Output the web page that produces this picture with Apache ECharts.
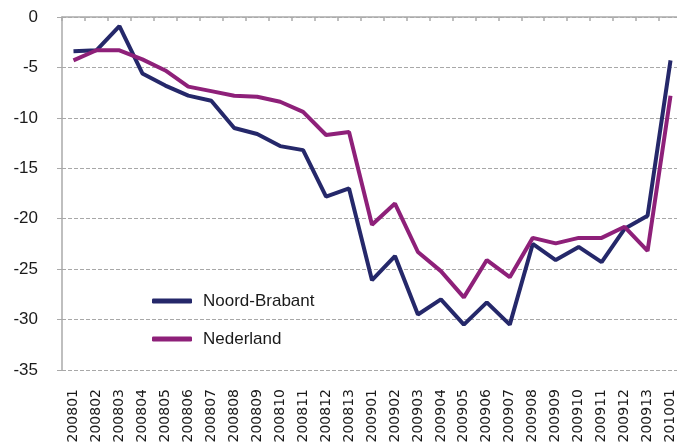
<!DOCTYPE html>
<html>
<head>
<meta charset="utf-8">
<script src="https://cdn.jsdelivr.net/npm/echarts@6/dist/echarts.min.js"></script>
<style>
  html, body { margin: 0; padding: 0; background: #fff; }
  #chart { width: 677px; height: 446px; }
</style>
</head>
<body>
<div id="chart"></div>
<script>
// periodes (jaar + maand, 13 perioden per jaar)
var periods = [
  "200801", "200802", "200803", "200804", "200805", "200806", "200807",
  "200808", "200809", "200810", "200811", "200812", "200813",
  "200901", "200902", "200903", "200904", "200905", "200906", "200907",
  "200908", "200909", "200910", "200911", "200912", "200913", "201001"
];
var noordBrabant = [
  -3.4, -3.3, -0.9, -5.6, -6.8, -7.8, -8.3,
  -11.0, -11.6, -12.8, -13.2, -17.8, -17.0,
  -26.1, -23.7, -29.5, -28.0, -30.5, -28.3, -30.5,
  -22.5, -24.1, -22.8, -24.3, -21.0, -19.7, -4.3
];
var nederland = [
  -4.3, -3.3, -3.3, -4.2, -5.3, -6.9, -7.35,
  -7.8, -7.9, -8.4, -9.4, -11.7, -11.4,
  -20.6, -18.5, -23.3, -25.2, -27.8, -24.1, -25.8,
  -21.9, -22.45, -21.9, -21.9, -20.8, -23.2, -7.8
];
var yTicks = { min: -35, max: 0, interval: 5 };

var chart = echarts.init(document.getElementById("chart"));
var option = {
  backgroundColor: "#fff",
  animation: false,
  // plot runs a little past the right edge, as in the original
  grid: { left: 62, top: 17, width: 620, bottom: 76, outerBoundsMode: "none", containLabel: false },
  legend: {
    orient: "vertical",
    left: 147,
    top: 286,
    icon: "roundRect",
    itemWidth: 40,
    itemHeight: 5,
    itemGap: 18,
    textStyle: {
      fontFamily: "Liberation Sans",
      fontSize: 17,
      color: "#1a1a1a",
      lineHeight: 20,
      padding: [0, 0, 0, 6]
    },
    data: ["Noord-Brabant", "Nederland"]
  },
  xAxis: [
    {
      type: "category",
      position: "bottom",
      data: periods,
      boundaryGap: true,
      axisLine: { show: false, onZero: false },
      axisTick: { show: false },
      axisLabel: {
        rotate: 90,
        margin: 19,
        fontFamily: "DejaVu Sans",
        fontSize: 14,
        color: "#1a1a1a",
        interval: 0
      }
    },
    {
      type: "category",
      position: "top",
      data: periods,
      boundaryGap: true,
      axisLine: { show: true, onZero: false, lineStyle: { color: "#aaaaaa", width: 1.5 } },
      axisTick: { show: true, inside: true, length: 4, interval: 0, lineStyle: { color: "#aaaaaa", width: 1.5 } },
      axisLabel: { show: false, interval: 0 }
    }
  ],
  yAxis: {
    type: "value",
    min: yTicks.min,
    max: yTicks.max,
    interval: yTicks.interval,
    axisLine: { show: true, lineStyle: { color: "#aaaaaa", width: 1.5 } },
    axisTick: { show: true, length: 5, lineStyle: { color: "#aaaaaa", width: 1 } },
    axisLabel: {
      margin: 24,
      fontFamily: "Liberation Sans",
      fontSize: 17,
      color: "#1a1a1a"
    },
    splitLine: {
      show: true,
      lineStyle: { color: "#a8a8a8", width: 1, type: [4, 2] }
    }
  },
  series: [
    {
      name: "Noord-Brabant",
      type: "line",
      data: noordBrabant,
      showSymbol: false,
      symbol: "none",
      color: "#25286a",
      lineStyle: { width: 4, color: "#25286a" }
    },
    {
      name: "Nederland",
      type: "line",
      data: nederland,
      showSymbol: false,
      symbol: "none",
      color: "#8e2079",
      lineStyle: { width: 4, color: "#8e2079" }
    }
  ]
};
chart.setOption(option);
</script>
</body>
</html>
